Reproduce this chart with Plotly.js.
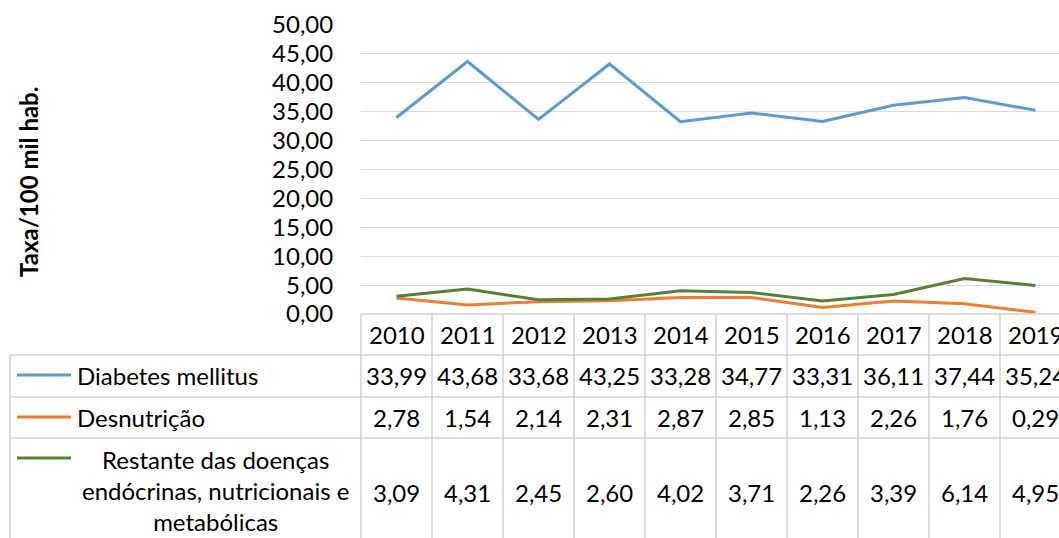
<!DOCTYPE html>
<html>
<head>
<meta charset="utf-8">
<script src="https://cdn.plot.ly/plotly-3.0.1.min.js"></script>
<style>html,body{margin:0;padding:0;background:#fff;}#chart{width:1059px;height:538px;}</style>
</head>
<body>
<div id="chart"></div>
<script>
var years = ['2010','2011','2012','2013','2014','2015','2016','2017','2018','2019'];
var diabetes = [33.99, 43.68, 33.68, 43.25, 33.28, 34.77, 33.31, 36.11, 37.44, 35.24];
var desnutricao = [2.78, 1.54, 2.14, 2.31, 2.87, 2.85, 1.13, 2.26, 1.76, 0.29];
var restante = [3.09, 4.31, 2.45, 2.60, 4.02, 3.71, 2.26, 3.39, 6.14, 4.95];
var seriesNames = ['Diabetes mellitus', 'Desnutrição', 'Restante das doenças<br>endócrinas, nutricionais e<br>metabólicas'];
var seriesColors = ['#5B9BD5', '#ED7D31', '#548235'];
var yTitle = 'Taxa/100 mil hab.';

var W = 1059, H = 538;
var mL = 361, mR = 0, mT = 25, mB = 224;
var plotW = W - mL - mR, plotH = H - mT - mB;
var colW = 71;
var xr0 = -0.5, xr1 = -0.5 + plotW / colW;
function px2xp(px) { return (px - mL) / plotW; }
function py2yp(py) { return (H - mB - py) / plotH; }
var FONT = 'Lato, "Open Sans", sans-serif';
var FS = 24;
var gridC = '#D0D0D0';

var xs = years.map(function (_, i) { return i; });
var allSeries = [diabetes, desnutricao, restante];

var traces = allSeries.map(function (vals, k) {
  return {
    x: xs, y: vals, type: 'scatter', mode: 'lines',
    name: seriesNames[k].replace(/<br>/g, ' '),
    line: { color: seriesColors[k], width: 3 },
    hoverinfo: 'skip'
  };
});

var shapes = [];
var annotations = [];
function fmt(v) { return v.toFixed(2).replace('.', ','); }

// table vertical lines
for (var i = 0; i <= years.length; i++) {
  var xp = (i - 0.5 - xr0) / (xr1 - xr0);
  if (xp > 1.001) continue;
  shapes.push({ type: 'line', xref: 'paper', yref: 'paper', x0: xp, x1: xp, y0: py2yp(314), y1: py2yp(540), line: { color: gridC, width: 1.5 } });
}
// top line of year row
shapes.push({ type: 'line', xref: 'paper', yref: 'paper', x0: 0, x1: 1, y0: 0, y1: 0, line: { color: gridC, width: 1.5 } });
// row lines
[355, 397, 438].forEach(function (py) {
  shapes.push({ type: 'line', xref: 'paper', yref: 'paper', x0: px2xp(10), x1: 1, y0: py2yp(py), y1: py2yp(py), line: { color: gridC, width: 1.5 } });
});
// left border
shapes.push({ type: 'line', xref: 'paper', yref: 'paper', x0: px2xp(10), x1: px2xp(10), y0: py2yp(355), y1: py2yp(540), line: { color: gridC, width: 1.5 } });

// year labels
years.forEach(function (yr, i) {
  annotations.push({ xref: 'x', yref: 'paper', x: i, y: py2yp(334), text: yr, showarrow: false, xanchor: 'center', yanchor: 'middle', font: { family: FONT, size: FS, color: '#000' } });
});
var rowY = [375, 417, 492];
allSeries.forEach(function (vals, k) {
  vals.forEach(function (v, i) {
    annotations.push({ xref: 'x', yref: 'paper', x: i, y: py2yp(rowY[k]), text: fmt(v), showarrow: false, xanchor: 'center', yanchor: 'middle', font: { family: FONT, size: FS, color: '#000' } });
  });
});
// legend keys
var keyY = [375, 417, 458];
keyY.forEach(function (py, k) {
  shapes.push({ type: 'line', xref: 'paper', yref: 'paper', x0: px2xp(17), x1: px2xp(71), y0: py2yp(py), y1: py2yp(py), line: { color: seriesColors[k], width: 3 } });
});
annotations.push({ xref: 'paper', yref: 'paper', x: px2xp(75), y: py2yp(375), text: seriesNames[0], showarrow: false, xanchor: 'left', yanchor: 'middle', font: { family: FONT, size: FS, color: '#000' } });
annotations.push({ xref: 'paper', yref: 'paper', x: px2xp(75), y: py2yp(417), text: seriesNames[1], showarrow: false, xanchor: 'left', yanchor: 'middle', font: { family: FONT, size: FS, color: '#000' } });
annotations.push({ xref: 'paper', yref: 'paper', x: px2xp(215), y: py2yp(491), text: seriesNames[2], showarrow: false, xanchor: 'center', yanchor: 'middle', align: 'center', font: { family: FONT, size: FS, color: '#000' } });
// y title
annotations.push({ xref: 'paper', yref: 'paper', x: px2xp(28), y: py2yp(182), text: '<b>' + yTitle + '</b>', textangle: -90, showarrow: false, xanchor: 'center', yanchor: 'middle', font: { family: FONT, size: 24, color: '#000' } });

var layout = {
  width: W, height: H,
  margin: { l: mL, r: mR, t: mT, b: mB, pad: 0 },
  paper_bgcolor: '#fff', plot_bgcolor: '#fff',
  showlegend: false,
  separators: ',.',
  xaxis: { range: [xr0, xr1], showgrid: false, zeroline: false, showticklabels: false, ticks: '', showline: false, fixedrange: true },
  yaxis: {
    range: [0, 50], dtick: 5, tick0: 0, tickformat: '.2f',
    showgrid: true, gridcolor: '#D9D9D9', gridwidth: 1, zeroline: false, showline: false,
    ticks: 'outside', ticklen: 22, tickcolor: 'rgba(0,0,0,0)',
    tickfont: { family: FONT, size: FS, color: '#000' }, fixedrange: true
  },
  shapes: shapes,
  annotations: annotations
};
Plotly.newPlot('chart', traces, layout, { displayModeBar: false, staticPlot: true });
</script>
</body>
</html>
